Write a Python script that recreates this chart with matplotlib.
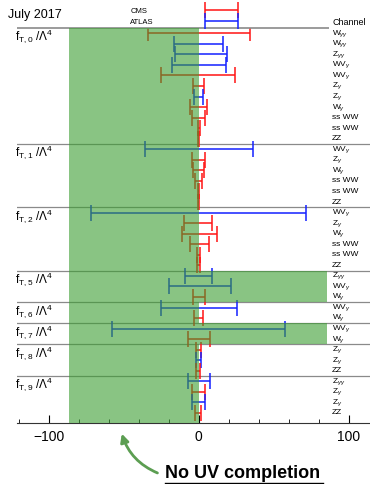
import matplotlib.pyplot as plt
from matplotlib.patches import FancyArrowPatch
from matplotlib.lines import Line2D

plt.rcParams['font.family'] = ['Liberation Sans', 'DejaVu Sans']
plt.rcParams['mathtext.fontset'] = 'custom'
plt.rcParams['mathtext.rm'] = 'Liberation Sans'
plt.rcParams['mathtext.it'] = 'Liberation Sans:italic'

# operators and how many channel rows each one has
groups = ['T,0', 'T,1', 'T,2', 'T,5', 'T,6', 'T,7', 'T,8', 'T,9']
group_sizes = [11, 6, 6, 3, 2, 2, 3, 4]

channels = [
    r'W$_{\gamma\gamma}$', r'W$_{\gamma\gamma}$', r'Z$_{\gamma\gamma}$', r'WV$_{\gamma}$', r'WV$_{\gamma}$',
    r'Z$_{\gamma}$', r'Z$_{\gamma}$', r'W$_{\gamma}$', 'ss WW', 'ss WW', 'ZZ',
    r'WV$_{\gamma}$', r'Z$_{\gamma}$', r'W$_{\gamma}$', 'ss WW', 'ss WW', 'ZZ',
    r'WV$_{\gamma}$', r'Z$_{\gamma}$', r'W$_{\gamma}$', 'ss WW', 'ss WW', 'ZZ',
    r'Z$_{\gamma\gamma}$', r'WV$_{\gamma}$', r'W$_{\gamma}$',
    r'WV$_{\gamma}$', r'W$_{\gamma}$',
    r'WV$_{\gamma}$', r'W$_{\gamma}$',
    r'Z$_{\gamma}$', r'Z$_{\gamma}$', 'ZZ',
    r'Z$_{\gamma\gamma}$', r'Z$_{\gamma}$', r'Z$_{\gamma}$', 'ZZ',
]
experiment = [
    'CMS', 'ATLAS', 'ATLAS', 'ATLAS', 'CMS', 'CMS', 'ATLAS', 'CMS', 'CMS', 'CMS', 'CMS',
    'ATLAS', 'CMS', 'CMS', 'CMS', 'CMS', 'CMS',
    'ATLAS', 'CMS', 'CMS', 'CMS', 'CMS', 'CMS',
    'ATLAS', 'ATLAS', 'CMS',
    'ATLAS', 'CMS',
    'ATLAS', 'CMS',
    'CMS', 'ATLAS', 'CMS',
    'ATLAS', 'CMS', 'ATLAS', 'CMS',
]
lower = [
    -34, -16.4, -15.6, -18, -25, -3.8, -3.3, -5.4, -4.2, -0.6, -0.5,
    -36, -4.4, -3.8, -2.2, -0.4, -0.6,
    -72, -10, -10.9, -5.6, -0.9, -1.2,
    -9.3, -20, -3.8,
    -25.3, -2.8,
    -57.8, -7.1,
    -1.6, -1.8, -1.6,
    -7.1, -4.2, -4.2, -2.2,
]
upper = [
    34, 16.2, 19.1, 18.4, 24, 3.4, 2.9, 5.8, 4.6, 0.7, 0.6,
    36.2, 4.4, 3.6, 2.2, 0.4, 0.6,
    71.8, 8.9, 12.2, 7.3, 1.2, 1.2,
    9.1, 21.8, 4,
    25.6, 3.0,
    57.8, 7.8,
    1.8, 1.8, 1.3,
    7.8, 4, 4, 1.8,
]
uv_low = -86.5
uv_high = 85.5
groups_uv_both = ['T,5', 'T,7']

colors = {'CMS': '#ff1414', 'ATLAS': '#1420ff'}

fig = plt.figure(figsize=(3.7, 4.84), dpi=100)
ax = fig.add_axes([17/370, 1 - 423/484, 353/370, 395/484])
n = len(channels)
ax.set_xlim(-121, 114.3)
ax.set_ylim(n - 0.05, -0.5)

for i in range(n):
    ax.errorbar(0, i, xerr=[[-lower[i]], [upper[i]]], fmt='none',
                ecolor=colors[experiment[i]], elinewidth=1.1, capsize=5.5, capthick=1.1, zorder=2)
    ax.text(89, i, channels[i], fontsize=6, va='center', ha='left')

ax.text(89, -0.98, 'Channel', fontsize=6.5, va='center', ha='left')

# group separators, labels, green region
ax.axvspan(uv_low, 0, color='#3a9e30', alpha=0.6, lw=0, zorder=3)
start = 0
for g, s in zip(groups, group_sizes):
    if start > 0:
        ax.axhline(start - 0.5, color='#8a8a8a', lw=0.9, zorder=1)
    ax.text(-122.5, start + 0.3, r'f$_{\mathrm{%s}}$ /$\Lambda^4$' % g, fontsize=8.5,
            va='center', ha='left', clip_on=False)
    if g in groups_uv_both:
        ax.fill_betweenx([start - 0.5, start + s - 0.5], 0, uv_high, color='#3a9e30',
                         alpha=0.6, lw=0, zorder=3)
    start += s
ax.hlines(-0.5, -121, 87, color='#8a8a8a', lw=1.2, clip_on=False)

# legend
for name, yy in [('CMS', -2.2), ('ATLAS', -1.15)]:
    eb = ax.errorbar(15.3, yy, xerr=10.8, fmt='none', ecolor=colors[name],
                     elinewidth=1.1, capsize=5.5, capthick=1.1)
    for art in eb.lines[1] + eb.lines[2]:
        art.set_clip_on(False)
    ax.text(-45.5, yy + 0.1, name, fontsize=5.5, va='center', ha='left')

fig.text(8/370, 1 - 15/484, 'July 2017', fontsize=9, va='center', ha='left')

for sp in ['left', 'top', 'right']:
    ax.spines[sp].set_visible(False)
ax.spines['bottom'].set_color('#333333')
ax.set_yticks([])
ax.set_xticks([-100, 0, 100])
ax.set_xticklabels(['\u2212100', '0', '100'], fontsize=10)
ax.set_xticks([-120, -80, -60, -40, -20, 20, 40, 60, 80], minor=True)
ax.tick_params(axis='x', which='major', direction='in', length=6, pad=5)
ax.tick_params(axis='x', which='minor', direction='in', length=3)

fig.text(165/370, 1 - 474/484, 'No UV completion', fontsize=13, fontweight='bold',
         va='center', ha='left')
fig.add_artist(Line2D([165/370, 323/370], [1 - 483/484, 1 - 483/484], color='black', lw=1))
arrow = FancyArrowPatch((160/370, 1 - 474/484), (121/370, 1 - 431/484), transform=fig.transFigure,
                        arrowstyle='-|>', mutation_scale=12, color='#5c9e52', lw=2,
                        connectionstyle='arc3,rad=-0.25')
fig.add_artist(arrow)

fig.savefig('out.png', dpi=100)
